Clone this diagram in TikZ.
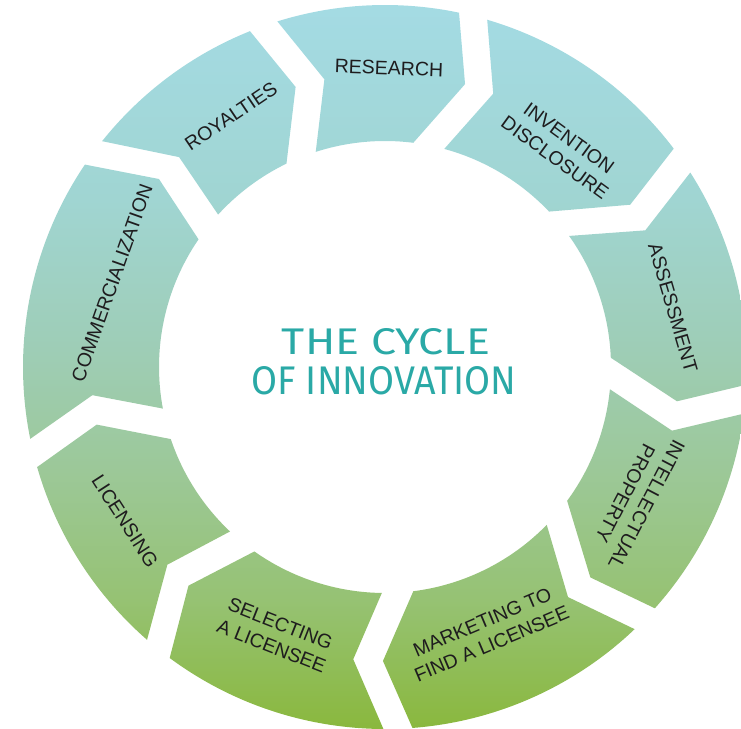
\documentclass[tikz,border=0pt]{standalone}
\usepackage{fontspec}
\usepackage{graphicx}
\newfontfamily\lblfont{Liberation Sans}
\newfontfamily\ttlfont{Fira Sans}
\definecolor{gA}{RGB}{164,219,228}
\definecolor{gB}{RGB}{160,213,210}
\definecolor{gC}{RGB}{158,205,182}
\definecolor{gD}{RGB}{156,200,152}
\definecolor{gE}{RGB}{150,194,115}
\definecolor{gF}{RGB}{138,184,62}
\definecolor{lbltext}{RGB}{30,28,30}
\definecolor{teal0}{RGB}{42,169,166}
\pgfdeclareverticalshading{ringshade}{100bp}{color(0bp)=(gF); color(25bp)=(gF); color(33.8bp)=(gE); color(42.7bp)=(gD); color(51bp)=(gC); color(61.3bp)=(gB); color(75bp)=(gA); color(100bp)=(gA)}
\tikzset{
  lbl/.style={font=\lblfont\fontsize{19.5}{24}\selectfont, text=lbltext, align=center, inner sep=0pt},
  ttl/.style={text=teal0, inner sep=0pt}
}
\begin{document}
\begin{tikzpicture}[x=1pt,y=1pt]
\useasboundingbox (0,0) rectangle (741,-728);
\begin{scope}
\clip[shift={(385,-367)}]
  \foreach \ma/\oa/\ia/\mb/\ob/\ib in {
    104.8/4.8/7.05/71.3/4.6/7.5,
    71.3/4.6/7.5/30.6/4.2/8.85,
    30.6/4.2/8.85/-9.6/4.5/7.95,
    -9.6/4.5/7.95/-48.6/4.5/8.3,
    -48.6/4.5/8.3/-93.3/5.35/6.5,
    266.7/5.35/6.5/225.15/6.05/5.55,
    225.15/6.05/5.55/188.4/5.35/6.2,
    188.4/5.35/6.2/137.35/6.35/4.25,
    137.35/6.35/4.25/104.8/4.8/7.05}
  { ({\ma+\oa-2.3}:362pt) arc[start angle={\ma+\oa-2.3}, end angle={\mb+\ob+2.3}, radius=362pt]
    -- ({\mb+2.9}:294pt) -- ({\mb+\ib+4}:226pt)
    arc[start angle={\mb+\ib+4}, end angle={\ma+\ia-4}, radius=226pt]
    -- ({\ma-2.9}:294pt) -- cycle };
\shade[shading=ringshade] (0,0) rectangle (741,-728);
\end{scope}
\node[lbl, rotate=-2] (research) at (389,-68) {RESEARCH};
\node[lbl, rotate=-36] (invention) at (562,-148) {INVENTION\\DISCLOSURE};
\node[lbl, rotate=-73.7] (assessment) at (673,-308) {ASSESSMENT};
\node[lbl, rotate=-117.6] (ip) at (636,-499) {INTELLECTUAL\\PROPERTY};
\node[lbl, rotate=23] (marketing) at (487,-633) {MARKETING TO\\FIND A LICENSEE};
\node[lbl, rotate=-21.5] (selecting) at (276,-635) {SELECTING\\A LICENSEE};
\node[lbl, rotate=-57.2] (licensing) at (125,-521) {LICENSING};
\node[lbl, rotate=70.5] (commercialization) at (112,-283) {COMMERCIALIZATION};
\node[lbl, rotate=34] (royalties) at (231,-116) {ROYALTIES};
\node[ttl] (title1) at (386,-342) {\resizebox{208pt}{26pt}{\ttlfont THE CYCLE}};
\node[ttl] (title2) at (384,-381) {\resizebox{265pt}{28pt}{\ttlfont OF INNOVATION}};
\end{tikzpicture}
\end{document}
